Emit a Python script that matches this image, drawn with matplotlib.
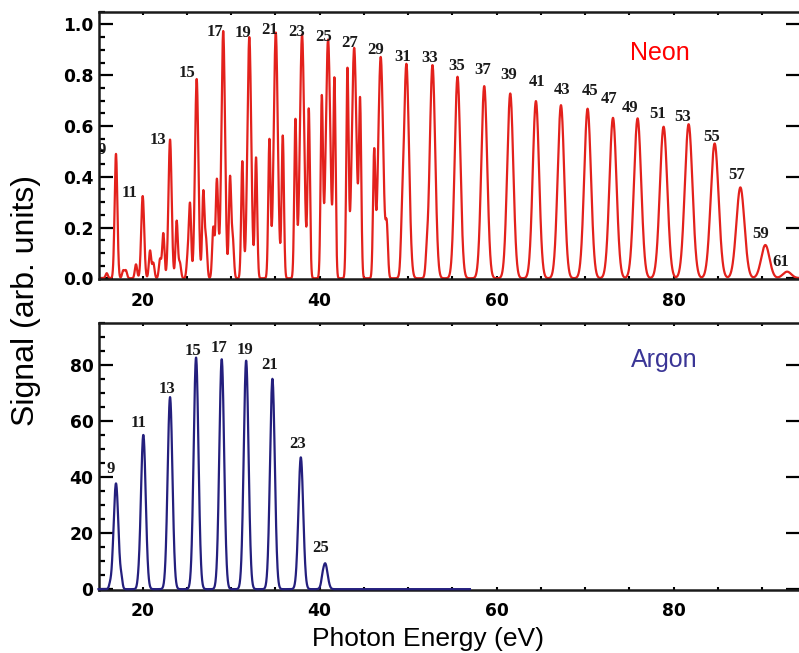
import numpy as np
import matplotlib
matplotlib.use('Agg')
import matplotlib.pyplot as plt
from matplotlib.ticker import MultipleLocator

# --- data ---
# neon: odd harmonics (order, energy eV, signal)
ne_order = [9, 11, 13, 15, 17, 19, 21, 23, 25, 27, 29, 31, 33, 35, 37, 39, 41,
            43, 45, 47, 49, 51, 53, 55, 57, 59, 61]
ne_energy = [16.98, 20.0, 23.09, 26.1, 29.1, 32.05, 35.04, 38.01, 40.95, 43.9,
             46.9, 49.8, 52.75, 55.58, 58.6, 61.54, 64.44, 67.27, 70.28, 73.15,
             75.93, 78.87, 81.7, 84.64, 87.55, 90.37, 92.83]
ne_signal = [0.49, 0.324, 0.547, 0.785, 0.974, 0.951, 0.968, 0.961, 0.941,
             0.908, 0.872, 0.845, 0.84, 0.794, 0.757, 0.728, 0.698, 0.682,
             0.668, 0.632, 0.63, 0.597, 0.607, 0.531, 0.358, 0.131, 0.026]
# neon: extra (satellite) lines between the harmonics
ne_sat_energy = [15.93, 17.8, 18.1, 19.24, 20.83, 21.2, 21.96, 22.33, 23.84,
                 24.2, 25.09, 25.35, 26.85, 27.16, 27.98, 28.37, 28.55, 29.87,
                 30.18, 31.26, 32.81, 34.32, 35.83, 37.26, 38.77, 40.24, 41.67,
                 43.14, 44.57, 46.16, 47.59, 49.29, 52.1]
ne_sat_signal = [0.02, 0.03, 0.03, 0.055, 0.109, 0.06, 0.075, 0.177, 0.226,
                 0.06, 0.083, 0.286, 0.338, 0.145, 0.2, 0.36, 0.07, 0.394,
                 0.15, 0.46, 0.475, 0.542, 0.561, 0.62, 0.663, 0.702, 0.774,
                 0.813, 0.672, 0.485, 0.183, 0.1, 0.06]
# neon label positions (energy, signal)
ne_lab_x = [15.36, 18.56, 21.73, 24.98, 28.18, 31.34, 34.4, 37.34, 40.4, 43.33,
            46.27, 49.36, 52.49, 55.43, 58.45, 61.34, 64.62, 67.38, 70.58,
            72.76, 75.1, 78.19, 80.99, 84.27, 87.09, 89.8, 92.1]
ne_lab_y = [0.505, 0.336, 0.544, 0.808, 0.97, 0.966, 0.98, 0.97, 0.951, 0.927,
            0.9, 0.872, 0.868, 0.837, 0.822, 0.802, 0.773, 0.742, 0.737, 0.706,
            0.67, 0.647, 0.635, 0.556, 0.407, 0.174, 0.064]

# argon harmonics
ar_order = [9, 11, 13, 15, 17, 19, 21, 23, 25]
ar_energy = [16.98, 20.07, 23.09, 26.03, 28.93, 31.69, 34.66, 37.87, 40.62]
ar_signal = [37.7, 55.0, 68.5, 82.6, 82.0, 81.5, 75.0, 47.0, 9.2]
ar_small_energy = [16.3, 17.6, 19.5, 40.3]
ar_small_signal = [1.2, 2.8, 0.8, 1.0]
ar_lab_x = [16.38, 19.58, 22.71, 25.65, 28.66, 31.57, 34.4, 37.48, 40.13]
ar_lab_y = [42.7, 59.2, 71.5, 84.8, 86.0, 85.4, 80.0, 51.7, 14.8]


def spectrum(e, centers, heights, width):
    s = np.zeros_like(e)
    for c, h in zip(centers, heights):
        w = width(c)
        s += h * np.exp(-0.5 * ((e - c) / w) ** 2)
    return s


RED = '#e3211c'
BLUE = '#241f7d'

e_ne = np.arange(15.0, 94.5, 0.02)
neon = spectrum(e_ne, ne_energy, ne_signal, lambda c: 0.08 + 0.0043 * c)
neon += spectrum(e_ne, ne_sat_energy, ne_sat_signal, lambda c: 0.13)

e_ar = np.arange(15.0, 57.0, 0.02)
argon = spectrum(e_ar, ar_energy, ar_signal, lambda c: 0.27)
argon += spectrum(e_ar, ar_small_energy, ar_small_signal, lambda c: 0.12)

fig = plt.figure(figsize=(7.99, 6.53), dpi=100)
ax1 = fig.add_axes([0.1239, 0.5727, 0.8775, 0.4093])
ax2 = fig.add_axes([0.1239, 0.0965, 0.8775, 0.4093])

tick_font = dict(family='DejaVu Sans', weight='bold', size=12.3)
lab_font = dict(family='Liberation Serif', weight='bold', size=12)


def style(ax):
    ax.set_xlim(15.06, 94.3)
    for sp in ax.spines.values():
        sp.set_linewidth(1.8)
        sp.set_color('#1a1a1a')
    ax.xaxis.set_major_locator(MultipleLocator(20))
    ax.xaxis.set_minor_locator(MultipleLocator(5))
    ax.tick_params(axis='x', which='both', direction='in', top=True,
                   length=2.5, width=1.5, pad=9)
    ax.tick_params(axis='y', which='major', direction='in', right=True,
                   length=10, width=1.6, pad=4)
    ax.tick_params(axis='y', which='minor', direction='in', right=False,
                   length=4.5, width=1.6)
    for t in ax.get_xticklabels() + ax.get_yticklabels():
        t.set_fontproperties(matplotlib.font_manager.FontProperties(**tick_font))


# neon panel
ax1.plot(e_ne, neon, color=RED, lw=1.6)
ax1.set_ylim(-0.003, 1.05)
ax1.yaxis.set_major_locator(MultipleLocator(0.2))
ax1.yaxis.set_minor_locator(MultipleLocator(0.05))
ax1.yaxis.set_major_formatter(matplotlib.ticker.FormatStrFormatter('%.1f'))
style(ax1)
for o, x, y in zip(ne_order, ne_lab_x, ne_lab_y):
    ax1.text(x, y, str(o), ha='center', va='center', color='#1a1a1a',
             clip_on=True, **lab_font)
ax1.text(78.4, 0.887, 'Neon', color='#ff0000', fontsize=18,
         family='Liberation Sans', ha='center', va='center')

# argon panel
ax2.plot(e_ar, argon, color=BLUE, lw=1.6, clip_on=False, zorder=3)
ax2.set_ylim(-0.3, 95)
ax2.yaxis.set_major_locator(MultipleLocator(20))
ax2.yaxis.set_minor_locator(MultipleLocator(5))
style(ax2)
for o, x, y in zip(ar_order, ar_lab_x, ar_lab_y):
    ax2.text(x, y, str(o), ha='center', va='center', color='#1a1a1a', **lab_font)
ax2.text(78.9, 81.8, 'Argon', color='#3a3596', fontsize=18,
         family='Liberation Sans', ha='center', va='center')

fig.text(0.536, 0.003, 'Photon Energy (eV)', ha='center', va='bottom',
         fontsize=19, family='Liberation Sans')
fig.text(0.032, 0.54, 'Signal (arb. units)', ha='center', va='center',
         rotation=90, fontsize=23, family='Liberation Sans')

fig.savefig('out.png', dpi=100)
